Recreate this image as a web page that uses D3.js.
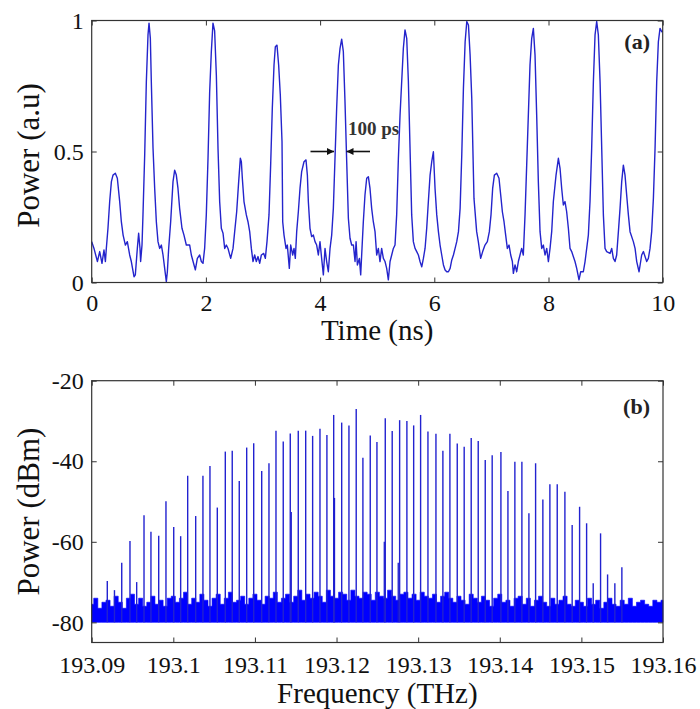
<!DOCTYPE html>
<html><head><meta charset="utf-8">
<script src="https://cdn.jsdelivr.net/npm/d3@7"></script>
<style>
body{margin:0;background:#fff}
svg{display:block}
text{font-family:"Liberation Serif","Times New Roman",serif}
</style>
</head><body>
<svg id="chart" width="700" height="709"></svg>
<script>
// ---------- Panel (a): pulse train ----------
const timeNs = [0.0,0.04,0.10,0.14,0.18,0.215,0.24,0.256,0.285,0.315,0.345,0.373,0.414,0.449,0.49,0.519,0.55,0.59,0.624,0.665,0.694,0.741,0.764,0.799,0.822,0.846,0.857,0.881,0.898,0.928,0.957,0.986,1.004,1.027,1.044,1.074,1.103,1.132,1.161,1.19,1.22,1.249,1.278,1.307,1.325,1.348,1.383,1.424,1.453,1.482,1.511,1.54,1.581,1.616,1.657,1.716,1.745,1.792,1.815,1.85,1.891,1.92,1.949,1.978,2.007,2.037,2.066,2.095,2.124,2.153,2.183,2.212,2.241,2.27,2.3,2.329,2.358,2.387,2.434,2.475,2.504,2.539,2.574,2.603,2.621,2.638,2.667,2.708,2.737,2.767,2.796,2.825,2.854,2.883,2.913,2.942,2.971,3.012,3.041,3.07,3.105,3.134,3.163,3.193,3.216,3.245,3.274,3.303,3.333,3.345,3.368,3.403,3.426,3.461,3.485,3.52,3.543,3.566,3.59,3.619,3.648,3.677,3.718,3.753,3.777,3.794,3.823,3.852,3.882,3.911,3.94,3.969,3.998,4.027,4.057,4.086,4.115,4.144,4.174,4.203,4.232,4.261,4.29,4.32,4.349,4.378,4.407,4.436,4.466,4.495,4.524,4.553,4.583,4.612,4.63,4.653,4.688,4.711,4.728,4.757,4.786,4.816,4.845,4.874,4.903,4.932,4.962,4.991,5.02,5.049,5.078,5.108,5.137,5.166,5.195,5.225,5.254,5.283,5.312,5.341,5.371,5.4,5.429,5.458,5.487,5.517,5.546,5.575,5.604,5.633,5.663,5.692,5.721,5.75,5.78,5.809,5.838,5.867,5.896,5.926,5.955,5.984,6.013,6.043,6.072,6.101,6.13,6.16,6.189,6.218,6.247,6.277,6.306,6.335,6.364,6.393,6.423,6.452,6.481,6.51,6.54,6.569,6.598,6.627,6.656,6.695,6.742,6.771,6.812,6.847,6.888,6.929,6.964,6.993,7.022,7.052,7.093,7.133,7.163,7.192,7.221,7.25,7.279,7.309,7.338,7.367,7.385,7.414,7.443,7.472,7.501,7.53,7.559,7.589,7.618,7.647,7.676,7.706,7.735,7.764,7.793,7.822,7.852,7.881,7.91,7.939,7.969,7.998,8.027,8.056,8.085,8.132,8.173,8.202,8.231,8.26,8.289,8.318,8.348,8.377,8.406,8.464,8.494,8.534,8.564,8.61,8.64,8.669,8.698,8.727,8.756,8.786,8.815,8.844,8.873,8.903,8.932,8.961,8.99,9.019,9.078,9.107,9.136,9.165,9.194,9.224,9.253,9.282,9.311,9.34,9.369,9.399,9.428,9.486,9.516,9.545,9.586,9.632,9.662,9.72,9.749,9.778,9.807,9.837,9.866,9.895,9.924,9.953,9.983,10.0];
const powerAU = [0.156,0.13,0.08,0.118,0.073,0.124,0.08,0.13,0.207,0.309,0.385,0.41,0.417,0.398,0.309,0.232,0.181,0.143,0.156,0.105,0.08,0.022,0.029,0.13,0.188,0.13,0.08,0.143,0.258,0.487,0.767,0.945,0.99,0.932,0.767,0.512,0.359,0.232,0.156,0.13,0.143,0.105,0.054,0.003,0.041,0.13,0.232,0.385,0.429,0.41,0.359,0.283,0.207,0.181,0.143,0.143,0.105,0.067,0.048,0.092,0.105,0.08,0.073,0.13,0.258,0.474,0.728,0.881,0.99,0.96,0.792,0.512,0.309,0.207,0.188,0.13,0.143,0.13,0.092,0.13,0.194,0.27,0.385,0.474,0.461,0.398,0.309,0.258,0.232,0.194,0.13,0.08,0.105,0.08,0.099,0.073,0.105,0.111,0.092,0.156,0.258,0.448,0.665,0.83,0.9,0.906,0.83,0.716,0.538,0.232,0.181,0.13,0.143,0.054,0.143,0.105,0.13,0.092,0.194,0.27,0.359,0.423,0.461,0.468,0.41,0.309,0.207,0.175,0.181,0.156,0.143,0.105,0.156,0.092,0.029,0.13,0.08,0.041,0.13,0.181,0.283,0.474,0.665,0.83,0.894,0.929,0.881,0.69,0.461,0.245,0.169,0.143,0.143,0.08,0.156,0.067,0.092,0.029,0.105,0.232,0.334,0.398,0.404,0.359,0.283,0.232,0.194,0.105,0.13,0.08,0.13,0.092,0.08,0.054,0.01,0.08,0.105,0.13,0.143,0.258,0.474,0.639,0.767,0.894,0.964,0.932,0.767,0.512,0.258,0.156,0.13,0.118,0.105,0.08,0.06,0.092,0.13,0.207,0.309,0.41,0.461,0.499,0.359,0.258,0.194,0.143,0.105,0.067,0.048,0.041,0.041,0.054,0.086,0.105,0.13,0.156,0.194,0.283,0.487,0.741,0.919,0.996,0.983,0.868,0.703,0.321,0.194,0.156,0.092,0.118,0.143,0.156,0.194,0.258,0.359,0.41,0.417,0.398,0.334,0.27,0.232,0.181,0.13,0.143,0.105,0.08,0.035,0.067,0.041,0.08,0.105,0.13,0.105,0.258,0.448,0.639,0.83,0.932,0.97,0.868,0.639,0.385,0.194,0.13,0.143,0.105,0.13,0.08,0.13,0.194,0.309,0.41,0.474,0.436,0.359,0.296,0.309,0.27,0.207,0.13,0.118,0.08,0.054,0.01,0.041,0.041,0.08,0.13,0.181,0.309,0.512,0.767,0.945,0.996,0.945,0.767,0.512,0.258,0.13,0.118,0.111,0.13,0.092,0.08,0.105,0.194,0.283,0.385,0.448,0.41,0.334,0.258,0.194,0.156,0.13,0.08,0.041,0.105,0.118,0.08,0.092,0.13,0.194,0.321,0.512,0.767,0.919,0.97,0.957,0.96];
const timeTicks = [0,2,4,6,8,10];
const powerTicks = [0,0.5,1];

// ---------- Panel (b): optical spectrum ----------
const combFreqTHz = [193.09191,193.09279,193.09368,193.09469,193.09551,193.09641,193.09726,193.09821,193.09910,193.10005,193.10090,193.10176,193.10274,193.10363,193.10449,193.10539,193.10637,193.10722,193.10808,193.10899,193.10985,193.11083,193.11172,193.11258,193.11347,193.11433,193.11531,193.11622,193.11707,193.11797,193.11882,193.11965,193.12063,193.12152,193.12241,193.12323,193.12413,193.12495,193.12597,193.12682,193.12773,193.12862,193.12945,193.13030,193.13120,193.13218,193.13303,193.13389,193.13479,193.13564,193.13650,193.13736,193.13822,193.13907,193.14014,193.14100,193.14185,193.14271,193.14357,193.14439,193.14528,193.14614,193.14704,193.14798,193.14887,193.14978,193.15064,193.15145,193.15235,193.15321,193.15410,193.15496];
const combPowerDbm = [-69.7,-72,-65.2,-59.8,-70,-53.4,-57.5,-58.5,-49.9,-56.3,-58.6,-43.6,-53.6,-43.6,-41.2,-51.5,-37.6,-37.4,-44.9,-36.6,-35.5,-42.4,-40.5,-32.4,-35.1,-33.1,-32.4,-32.4,-33.7,-31.9,-33.5,-28.5,-30.4,-31.1,-27.0,-39.1,-33.6,-35.2,-29.3,-32.5,-29.8,-30.0,-31.1,-28.5,-32.6,-33.2,-37.4,-33.2,-35.6,-36.4,-34.2,-35.0,-39.7,-38.5,-37.7,-47.4,-40.1,-40.1,-52.9,-40.5,-49.5,-45.7,-45.7,-47.6,-55.8,-51.3,-55.4,-70.3,-57.9,-68.1,-70.3,-66.3];
const sideFreqTHz = [193.11445,193.11975,193.12585,193.12756];
const sidePowerDbm = [-52.6,-49.1,-60,-65.2];
// noise floor upper envelope, sampled evenly across 193.09 - 193.16 THz
const noiseFloorDbm = [-75.5,-74,-76.5,-75,-74.5,-76,-73.5,-75,-76.5,-74,
-73,-75.5,-74,-76,-75,-73.5,-75.5,-74.5,-76,-74,
-73.5,-75,-74,-72.5,-75.5,-74,-75,-73,-74.5,-76,
-74,-73,-75.5,-74,-72.5,-75,-74.5,-73.5,-75.5,-74,
-73,-74.5,-75.5,-73.5,-74,-72.5,-75,-74,-73,-75,
-73.5,-72,-74.5,-73,-74,-72.5,-73.5,-75,-72,-73.5,
-74,-72.5,-73,-74.5,-72,-73.5,-74,-72.5,-73,-74.5,
-72.5,-73.5,-74,-72,-73.5,-74.5,-73,-72.5,-74,-73,
-74.5,-72.5,-73.5,-74,-73,-75,-73.5,-72.5,-74,-75,
-73.5,-74.5,-75.5,-73,-74,-75,-73.5,-74.5,-76,-74,
-73,-75,-74.5,-76,-74,-73.5,-75.5,-74,-76,-74.5,
-73.5,-75,-76,-74,-75.5,-74.5,-73.5,-75.5,-76,-74.5,
-75,-76,-74,-75.5,-74.5,-76.5,-75,-74,-75.5,-76,
-74.5,-75.5,-74,-76,-75,-74.5,-75.5,-76,-74.5,-75,-74.5];
const noiseBaseDbm = -80;
const freqTicks = [193.09,193.1,193.11,193.12,193.13,193.14,193.15,193.16];
const dbmTicks = [-80,-60,-40,-20];

// ---------- drawing ----------
const svg = d3.select("#chart");
const FONT = '"Liberation Serif","Times New Roman",serif';

function drawFrame(g, x, y, box, xt, yt, xPad){
  const fmt = d => String(d);
  const style = sel => {
    sel.attr("font-family", FONT);
    sel.select(".domain").remove();
    sel.selectAll(".tick line").attr("stroke","#333").attr("stroke-width",1);
    sel.selectAll(".tick text").attr("font-size",24).attr("fill","#111")
      .style("font-family", FONT);
  };
  g.append("g").attr("transform",`translate(0,${box.bottom})`)
    .call(d3.axisBottom(x).tickValues(xt).tickSizeInner(-5).tickSizeOuter(0).tickPadding(xPad).tickFormat(fmt)).call(style);
  g.append("g").attr("transform",`translate(0,${box.top})`)
    .call(d3.axisTop(x).tickValues(xt).tickSizeInner(-5).tickSizeOuter(0).tickFormat(()=>"")).call(style);
  g.append("g").attr("transform",`translate(${box.left},0)`)
    .call(d3.axisLeft(y).tickValues(yt).tickSizeInner(-5).tickSizeOuter(0).tickPadding(8).tickFormat(fmt)).call(style);
  g.append("g").attr("transform",`translate(${box.right},0)`)
    .call(d3.axisRight(y).tickValues(yt).tickSizeInner(-5).tickSizeOuter(0).tickFormat(()=>"")).call(style);
  g.append("rect").attr("x",box.left).attr("y",box.top)
    .attr("width",box.right-box.left).attr("height",box.bottom-box.top)
    .attr("fill","none").attr("stroke","#333").attr("stroke-width",1.2);
}

// Panel (a)
const A = {left:91.7,right:662.7,top:20.5,bottom:282.5};
const xT = d3.scaleLinear().domain([0,10]).range([A.left,A.right]);
const yT = d3.scaleLinear().domain([0,1]).range([A.bottom,A.top]);
const gA = svg.append("g");
const pts = timeNs.map((t,i)=>[t,powerAU[i]]);
gA.append("path").datum(pts)
  .attr("d", d3.line().x(d=>xT(d[0])).y(d=>yT(d[1])))
  .attr("fill","none").attr("stroke","#2424cc").attr("stroke-width",1.4).attr("stroke-linejoin","round");
drawFrame(gA, xT, yT, A, timeTicks, powerTicks, 11);

gA.append("text").attr("x",(A.left+A.right)/2).attr("y",340).attr("text-anchor","middle")
  .attr("font-size",29).attr("fill","#111").text("Time (ns)");
gA.append("text").attr("transform",`translate(39,${(A.top+A.bottom)/2+4}) rotate(-90)`)
  .attr("text-anchor","middle").attr("font-size",31).attr("fill","#111").text("Power (a.u)");
gA.append("text").attr("x",650).attr("y",49).attr("text-anchor","end")
  .attr("font-size",22).attr("font-weight","bold").attr("fill","#222").text("(a)");
gA.append("text").attr("x",348).attr("y",135)
  .attr("font-size",19).attr("font-weight","bold").attr("fill","#333").text("100 ps");
// arrows
const defs = svg.append("defs");
defs.append("marker").attr("id","ah").attr("viewBox","0 0 10 10").attr("refX",10).attr("refY",5)
  .attr("markerWidth",7).attr("markerHeight",7).attr("markerUnits","userSpaceOnUse").attr("orient","auto")
  .append("path").attr("d","M0,0L10,5L0,10Z").attr("fill","#111");
const arrowY = yT(0.5);
gA.append("line").attr("x1",310.5).attr("x2",334).attr("y1",arrowY).attr("y2",arrowY)
  .attr("stroke","#111").attr("stroke-width",1.6).attr("marker-end","url(#ah)");
gA.append("line").attr("x1",370).attr("x2",346.5).attr("y1",arrowY).attr("y2",arrowY)
  .attr("stroke","#111").attr("stroke-width",1.6).attr("marker-end","url(#ah)");

// Panel (b)
const B = {left:91.7,right:663,top:380.7,bottom:642.5};
const xF = d3.scaleLinear().domain([193.09,193.16]).range([B.left,B.right]);
const yF = d3.scaleLinear().domain([-85,-20]).range([B.bottom,B.top]);
const gB = svg.append("g");
const idxToFreq = d3.scaleLinear().domain([0,noiseFloorDbm.length-1]).range(xF.domain());
gB.append("path").datum(noiseFloorDbm)
  .attr("d", d3.area().curve(d3.curveStep).x((d,i)=>xF(idxToFreq(i))).y0(yF(noiseBaseDbm)).y1(d=>yF(d)))
  .attr("fill","#0000ff").attr("stroke","#0000ff").attr("stroke-width",0.6);
gB.selectAll("line.side").data(sideFreqTHz).join("line").attr("class","side")
  .attr("x1",d=>xF(d)).attr("x2",d=>xF(d)).attr("y1",yF(noiseBaseDbm)).attr("y2",(d,i)=>yF(sidePowerDbm[i]))
  .attr("stroke","#1a1ad0").attr("stroke-width",1.3);
gB.selectAll("line.comb").data(combFreqTHz).join("line").attr("class","comb")
  .attr("x1",d=>xF(d)).attr("x2",d=>xF(d)).attr("y1",yF(noiseBaseDbm)).attr("y2",(d,i)=>yF(combPowerDbm[i]))
  .attr("stroke","#2222d0").attr("stroke-width",1.4);
drawFrame(gB, xF, yF, B, freqTicks, dbmTicks, 13);

gB.append("text").attr("x",(B.left+B.right)/2).attr("y",703).attr("text-anchor","middle")
  .attr("font-size",29).attr("fill","#111").text("Frequency (THz)");
gB.append("text").attr("transform",`translate(39,${(B.top+B.bottom)/2}) rotate(-90)`)
  .attr("text-anchor","middle").attr("font-size",31).attr("fill","#111").text("Power (dBm)");
gB.append("text").attr("x",650).attr("y",414).attr("text-anchor","end")
  .attr("font-size",22).attr("font-weight","bold").attr("fill","#222").text("(b)");
</script>
</body></html>
